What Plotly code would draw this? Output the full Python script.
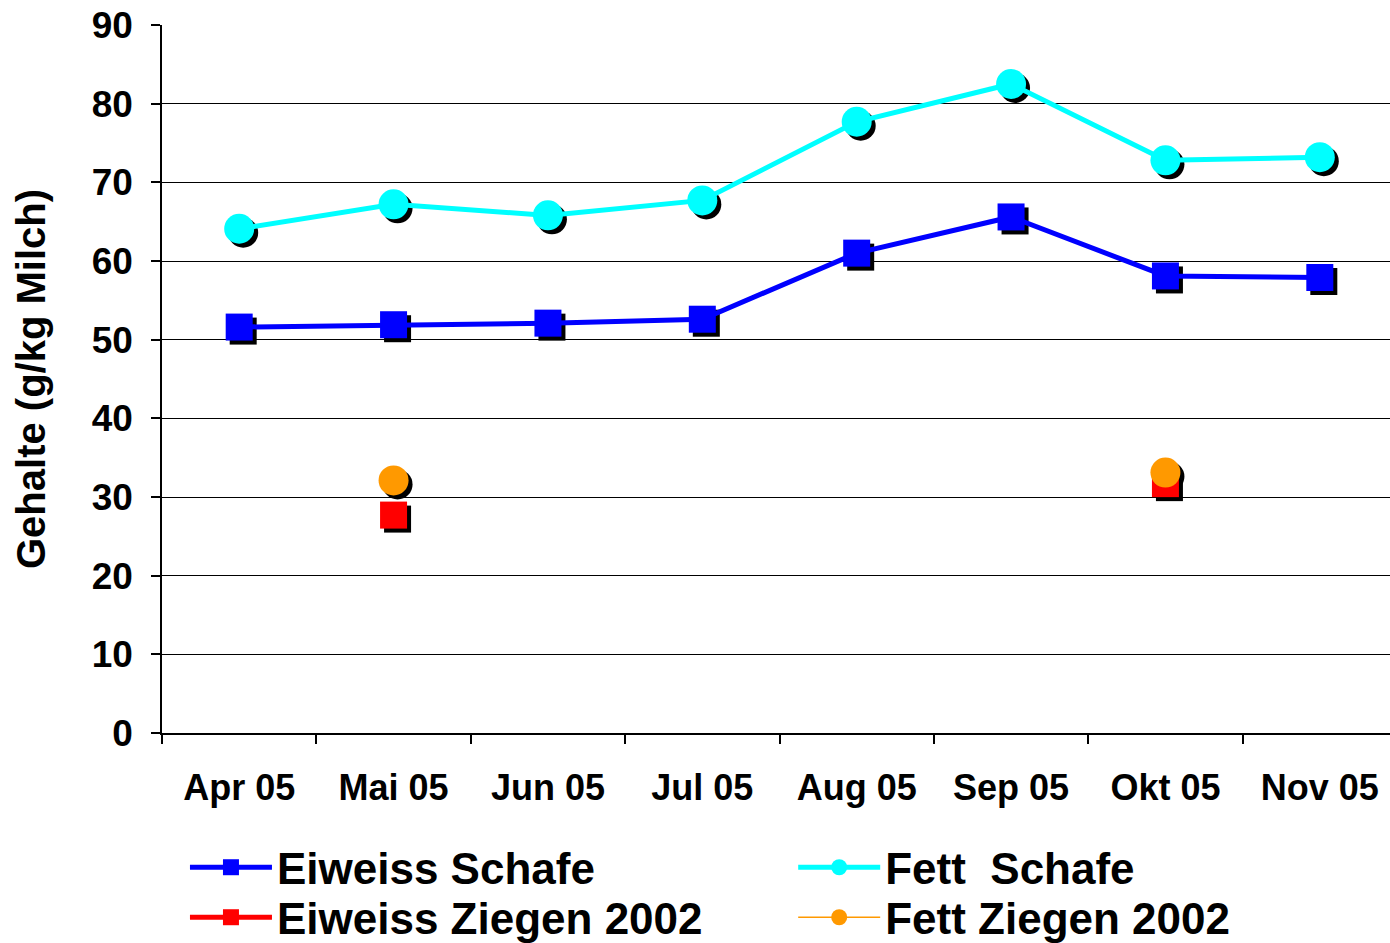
import plotly.graph_objects as go

months = ["Apr 05", "Mai 05", "Jun 05", "Jul 05", "Aug 05", "Sep 05", "Okt 05", "Nov 05"]
eiweiss_schafe = [51.6, 51.9, 52.1, 52.6, 61.0, 65.6, 58.1, 57.9]
fett_schafe = [64.1, 67.2, 65.8, 67.7, 77.7, 82.5, 72.8, 73.2]
eiweiss_ziegen = [None, 27.7, None, None, None, None, 31.7, None]
fett_ziegen = [None, 32.1, None, None, None, None, 33.1, None]

W, H = 1390, 943
ML, MR, MT, MB = 162, 0, 25, 210
PW, PH = W - ML - MR, H - MT - MB
XR = [-0.5, 7.5 - 7 / 154.4]
YR = [0, 90]
SH = 4  # shadow offset px
kx = PW / (XR[1] - XR[0])
ky = PH / (YR[1] - YR[0])
XR_SH = [XR[0] - SH / kx, XR[1] - SH / kx]
YR_SH = [YR[0] + SH / ky, YR[1] + SH / ky]

FONT = "Liberation Sans, Arial, sans-serif"

series = [
    ("Eiweiss Schafe", eiweiss_schafe, "#0000FF", "square", 27, 5, "legend"),
    ("Fett  Schafe", fett_schafe, "#00FFFF", "circle", 30, 5, "legend2"),
    ("Eiweiss Ziegen 2002", eiweiss_ziegen, "#FF0000", "square", 27, 5, "legend3"),
    ("Fett Ziegen 2002", fett_ziegen, "#FF9900", "circle", 30, 1.5, "legend4"),
]

fig = go.Figure()
# shadows (base axes, shifted)
for name, vals, col, sym, size, lw, lg in series:
    fig.add_trace(go.Scatter(
        x=months, y=vals, mode="markers", showlegend=False, hoverinfo="skip",
        marker=dict(symbol=sym, size=size, color="black", line=dict(width=0)),
        xaxis="x", yaxis="y"))
# main traces
for name, vals, col, sym, size, lw, lg in series:
    fig.add_trace(go.Scatter(
        x=months, y=vals, mode="lines+markers", name=name, legend=lg,
        line=dict(color=col, width=lw),
        marker=dict(symbol=sym, size=size, color=col, line=dict(width=0)),
        xaxis="x2", yaxis="y2"))

legend_common = dict(orientation="v", xanchor="left", yanchor="top",
                     itemwidth=82, font=dict(size=44, family=FONT, weight="bold"),
                     bgcolor="rgba(0,0,0,0)", itemsizing="trace", tracegroupgap=0)
ROW1, ROW2 = -0.14, -0.14 - 50 / 708
COL1, COL2 = 0.0187, 0.514

fig.update_layout(
    width=W, height=H,
    margin=dict(l=ML, r=MR, t=MT, b=MB, autoexpand=False),
    paper_bgcolor="white", plot_bgcolor="white",
    font=dict(family=FONT, color="black", weight="bold"),
    xaxis=dict(type="category", categoryorder="array", categoryarray=months,
               range=XR_SH, visible=False, fixedrange=True),
    yaxis=dict(range=YR_SH, visible=False, fixedrange=True),
    xaxis2=dict(type="category", categoryorder="array", categoryarray=months,
                overlaying="x", range=XR, showgrid=False, showline=True,
                linecolor="black", linewidth=1.5, ticks="outside", tickson="boundaries",
                ticklen=9, tickcolor="black", tickwidth=1.5,
                tickfont=dict(size=36, family=FONT, weight="bold"),
                ticklabelstandoff=22, side="bottom", anchor="y2"),
    yaxis2=dict(range=YR, overlaying="y", dtick=10, showgrid=True, gridcolor="black",
                gridwidth=1.2, showline=True, linecolor="black", linewidth=1.5,
                ticks="outside", ticklen=9, tickcolor="black", tickwidth=1.5,
                zeroline=False,
                tickfont=dict(size=37, family=FONT, weight="bold"),
                ticklabelstandoff=11, side="left", anchor="x2",
                title=dict(text="Gehalte (g/kg Milch)", standoff=34,
                           font=dict(size=40, family=FONT, weight="bold"))),
    legend=dict(x=COL1, y=ROW1, **legend_common),
    legend2=dict(x=COL2, y=ROW1, **legend_common),
    legend3=dict(x=COL1, y=ROW2, **legend_common),
    legend4=dict(x=COL2, y=ROW2, **legend_common),
    showlegend=True,
)

fig.write_html("out.html", config={"displayModeBar": False},
               post_script="document.body.style.margin='0px';document.body.style.overflow='hidden';")
